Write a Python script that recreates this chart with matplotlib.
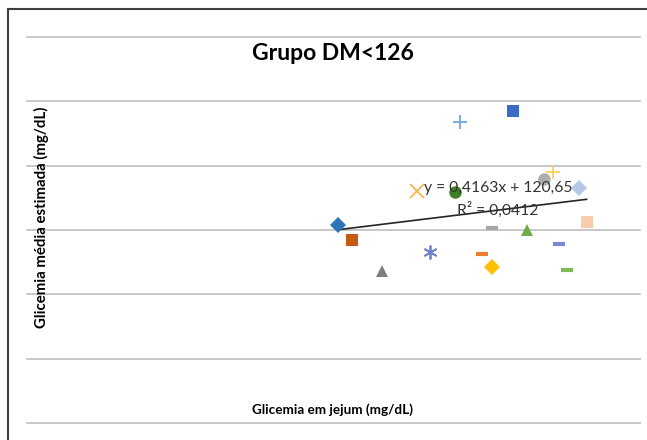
import numpy as np
import matplotlib
matplotlib.use("Agg")
import matplotlib.pyplot as plt
from matplotlib.lines import Line2D

plt.rcParams["font.family"] = ["Lato", "DejaVu Sans"]

# dados (cada ponto é uma série no Excel)
glic_jejum = [71.1, 74.2, 81.0, 92.0, 89.0, 98.9, 111.1, 97.8, 103.9,
              106.1, 106.1, 114.1, 118.1, 120.2, 126.1, 121.6, 123.3, 127.8]
glic_media = [153.9, 142.2, 118.1, 132.9, 180.3, 234.2, 242.7, 179.8, 131.1,
              151.3, 121.5, 150.0, 189.4, 195.3, 182.4, 139.1, 118.9, 156.5]
marcadores = ["D", "s", "^", (6, 2, 0), "x", "+", "s", "o", "_",
              "_", "D", "^", "o", "+", "D", "_", "_", "s"]
cores = ["#2E75B6", "#C55A11", "#7F7F7F", "#6F82CC", "#F2B84B", "#6FA6DC",
         "#3A6BC5", "#3F7F2A", "#ED7D31", "#A5A5A5", "#FFC000", "#70AD47",
         "#ADADAD", "#FFCF5C", "#B4C7E7", "#7F86D6", "#7DBA5A", "#F8CBAD"]

# linha de tendência (Excel)
coef_a = 0.4163
coef_b = 120.65
r2 = 0.0412

titulo = "Grupo DM<126"
rotulo_x = "Glicemia em jejum (mg/dL)"
rotulo_y = "Glicemia média estimada (mg/dL)"

fig = plt.figure(figsize=(6.47, 4.40), dpi=100)
ax = fig.add_axes([27 / 647, 1 - 423 / 440, 613 / 647, 386 / 440])

ax.set_xlim(0, 140)
ax.set_ylim(0, 300)
ax.set_yticks(np.arange(0, 301, 50))
ax.grid(axis="y", color="#BFBFBF", linewidth=1.2)
for gl in ax.get_ygridlines():
    gl.set_clip_on(False)
ax.set_axisbelow(True)
ax.tick_params(left=False, bottom=False, labelleft=False, labelbottom=False)
for s in ax.spines.values():
    s.set_visible(False)

# linha de tendência entre o mínimo e o máximo de x
xt = np.array([min(glic_jejum), max(glic_jejum)])
ax.plot(xt, coef_a * xt + coef_b, color="#262626", linewidth=1.2, zorder=2)

for x, y, m, c in zip(glic_jejum, glic_media, marcadores, cores):
    if m == "_":
        ax.plot(x, y, marker=m, color=c, markersize=8, markeredgewidth=3, zorder=3)
    elif m in ("+", "x", (6, 2, 0)):
        ax.plot(x, y, marker=m, color=c, markersize=10, markeredgewidth=1.3, zorder=3)
    elif m == "o":
        ax.plot(x, y, marker=m, color=c, markersize=9, markeredgewidth=0, zorder=3)
    else:
        ax.plot(x, y, marker=m, color=c, markersize=8, markeredgewidth=0, zorder=3)

eq = "y = " + ("%.4f" % coef_a).replace(".", ",") + "x + " + ("%.2f" % coef_b).replace(".", ",")
ax.text(0.768, 0.608, eq, transform=ax.transAxes, ha="center", va="center",
        fontsize=11.3, color="#333333", zorder=4)
ax.text(0.768, 0.553, "R² = " + ("%.4f" % r2).replace(".", ","), transform=ax.transAxes,
        ha="center", va="center", fontsize=11.3, color="#333333", zorder=4)

fig.text(333 / 647, 1 - 53 / 440, titulo, ha="center", va="center",
         fontsize=16.5, fontweight="bold", color="#000000")
fig.text(333 / 647, 1 - 410 / 440, rotulo_x, ha="center", va="center",
         fontsize=9.7, fontweight="bold", color="#000000")
fig.text(41 / 647, 1 - 217 / 440, rotulo_y, ha="center", va="center", rotation=90,
         fontsize=10.8, fontweight="bold", color="#000000")

# moldura do gráfico (recortada)
fig.add_artist(Line2D([8 / 647, 8 / 647], [0, 1 - 9 / 440], color="#404040", linewidth=1.5))
fig.add_artist(Line2D([8 / 647, 1], [1 - 9 / 440, 1 - 9 / 440], color="#404040", linewidth=1.5))

fig.savefig("out.png", dpi=100)
